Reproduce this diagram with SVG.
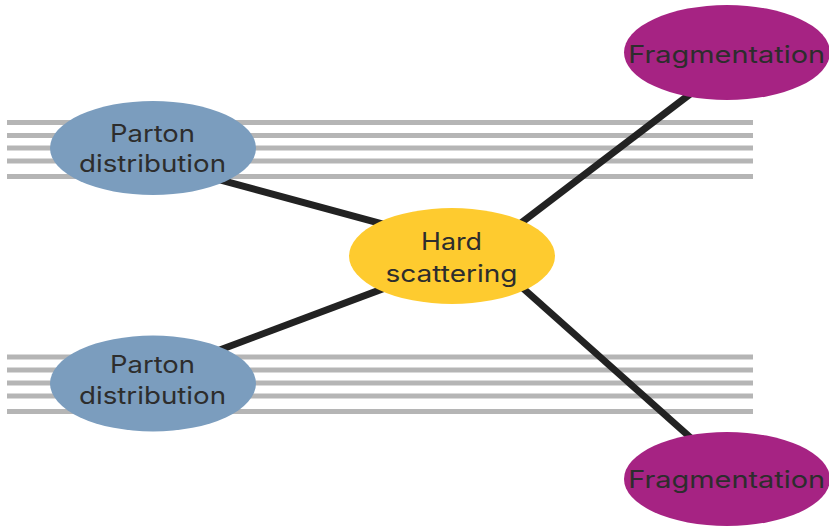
<svg xmlns="http://www.w3.org/2000/svg" width="829" height="528" viewBox="0 0 829 528">
<style>
.g{stroke:#b5b5b5;stroke-width:5;fill:none}
.c{stroke:#222;stroke-width:7;fill:none}
.t{font-family:Inter,"Liberation Sans",sans-serif;font-size:24px;fill:#2d2d2d;text-anchor:middle}
.pd{fill:#7b9dbe}
.hs{fill:#fecb2f}
.fr{fill:#a62383}
</style>
<rect width="829" height="528" fill="#fff"/>
<g id="beam-top">
<line class="g" x1="7" y1="122.5" x2="753" y2="122.5"/>
<line class="g" x1="7" y1="135.5" x2="753" y2="135.5"/>
<line class="g" x1="7" y1="148" x2="753" y2="148"/>
<line class="g" x1="7" y1="161" x2="753" y2="161"/>
<line class="g" x1="7" y1="176.5" x2="753" y2="176.5"/>
</g>
<g id="beam-bottom">
<line class="g" x1="7" y1="357" x2="753" y2="357"/>
<line class="g" x1="7" y1="370" x2="753" y2="370"/>
<line class="g" x1="7" y1="383" x2="753" y2="383"/>
<line class="g" x1="7" y1="396" x2="753" y2="396"/>
<line class="g" x1="7" y1="411.5" x2="753" y2="411.5"/>
</g>
<g id="connectors">
<line class="c" x1="170" y1="166.3" x2="420" y2="234.1"/>
<line class="c" x1="170" y1="368.6" x2="420" y2="274.9"/>
<line class="c" x1="480" y1="254.3" x2="710" y2="78.9"/>
<line class="c" x1="480" y1="249.9" x2="710" y2="455"/>
</g>
<g id="parton-top">
<ellipse class="pd" cx="153" cy="148" rx="103" ry="47"/>
<text class="t" x="152.5" y="141.7" textLength="85" lengthAdjust="spacingAndGlyphs">Parton</text>
<text class="t" x="152.5" y="172" textLength="147" lengthAdjust="spacingAndGlyphs">distribution</text>
</g>
<g id="parton-bottom">
<ellipse class="pd" cx="153" cy="383.5" rx="103" ry="48"/>
<text class="t" x="152.5" y="373.3" textLength="85" lengthAdjust="spacingAndGlyphs">Parton</text>
<text class="t" x="152.5" y="404" textLength="147" lengthAdjust="spacingAndGlyphs">distribution</text>
</g>
<g id="hard-scattering">
<ellipse class="hs" cx="452" cy="256" rx="103" ry="48"/>
<text class="t" x="451.5" y="250" textLength="61" lengthAdjust="spacingAndGlyphs">Hard</text>
<text class="t" x="451.5" y="281.7" textLength="132" lengthAdjust="spacingAndGlyphs">scattering</text>
</g>
<g id="fragmentation-top">
<ellipse class="fr" cx="727" cy="52.5" rx="103" ry="47.5"/>
<text class="t" x="726.7" y="63.3" textLength="197" lengthAdjust="spacingAndGlyphs">Fragmentation</text>
</g>
<g id="fragmentation-bottom">
<ellipse class="fr" cx="727" cy="479" rx="103" ry="47"/>
<text class="t" x="726.7" y="488.3" textLength="197" lengthAdjust="spacingAndGlyphs">Fragmentation</text>
</g>
</svg>
